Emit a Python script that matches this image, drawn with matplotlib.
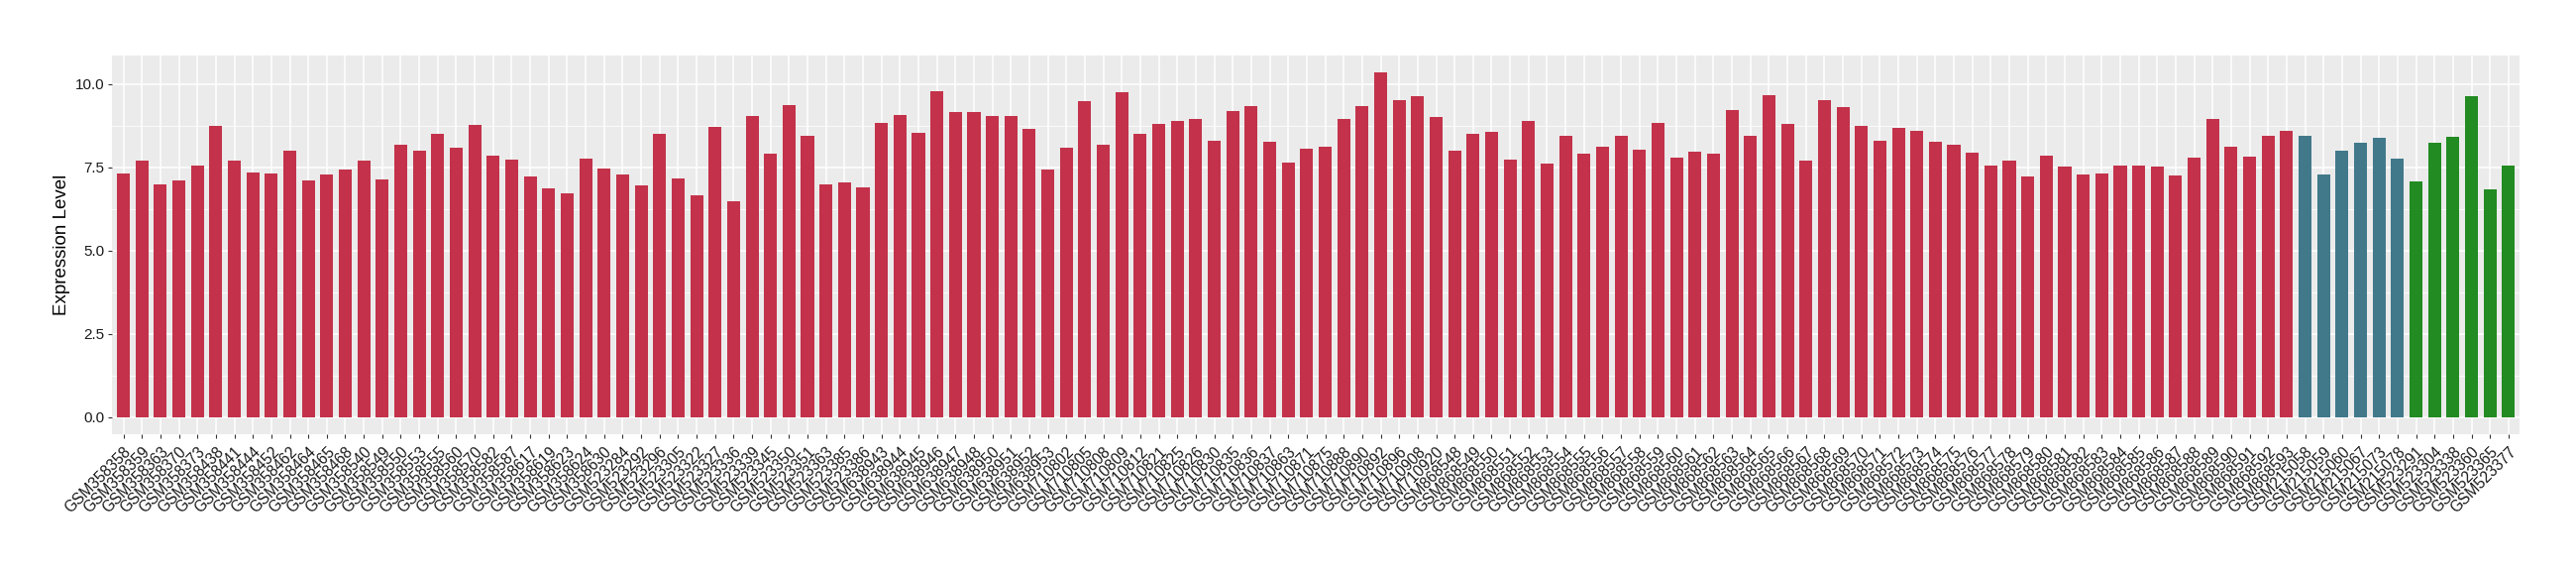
import numpy as np
import matplotlib
matplotlib.use("Agg")
import matplotlib.pyplot as plt
from matplotlib.ticker import MultipleLocator

plt.rcParams['font.family'] = ['Liberation Sans', 'DejaVu Sans']

# ---- data -------------------------------------------------------------
group_a_samples = [
    "GSM358358", "GSM358359", "GSM358363", "GSM358370", "GSM358373", "GSM358438",
    "GSM358441", "GSM358444", "GSM358452", "GSM358462", "GSM358464", "GSM358465",
    "GSM358468", "GSM358540", "GSM358549", "GSM358550", "GSM358553", "GSM358555",
    "GSM358560", "GSM358570", "GSM358582", "GSM358587", "GSM358617", "GSM358619",
    "GSM358623", "GSM358624", "GSM358630", "GSM523284", "GSM523292", "GSM523296",
    "GSM523305", "GSM523322", "GSM523327", "GSM523336", "GSM523339", "GSM523345",
    "GSM523350", "GSM523351", "GSM523363", "GSM523385", "GSM523386", "GSM638943",
    "GSM638944", "GSM638945", "GSM638946", "GSM638947", "GSM638948", "GSM638950",
    "GSM638951", "GSM638952", "GSM638953", "GSM710802", "GSM710805", "GSM710808",
    "GSM710809", "GSM710812", "GSM710821", "GSM710825", "GSM710826", "GSM710830",
    "GSM710835", "GSM710836", "GSM710837", "GSM710863", "GSM710871", "GSM710875",
    "GSM710888", "GSM710890", "GSM710892", "GSM710896", "GSM710908", "GSM710920",
    "GSM868548", "GSM868549", "GSM868550", "GSM868551", "GSM868552", "GSM868553",
    "GSM868554", "GSM868555", "GSM868556", "GSM868557", "GSM868558", "GSM868559",
    "GSM868560", "GSM868561", "GSM868562", "GSM868563", "GSM868564", "GSM868565",
    "GSM868566", "GSM868567", "GSM868568", "GSM868569", "GSM868570", "GSM868571",
    "GSM868572", "GSM868573", "GSM868574", "GSM868575", "GSM868576", "GSM868577",
    "GSM868578", "GSM868579", "GSM868580", "GSM868581", "GSM868582", "GSM868583",
    "GSM868584", "GSM868585", "GSM868586", "GSM868587", "GSM868588", "GSM868589",
    "GSM868590", "GSM868591", "GSM868592", "GSM868593",
]
group_a_values = [
    7.30, 7.71, 6.99, 7.10, 7.54, 8.75, 7.71, 7.33, 7.30, 8.00, 7.10, 7.28,
    7.42, 7.71, 7.13, 8.17, 8.00, 8.51, 8.09, 8.78, 7.86, 7.74, 7.22, 6.85,
    6.71, 7.77, 7.45, 7.28, 6.96, 8.51, 7.16, 6.65, 8.72, 6.47, 9.04, 7.89,
    9.36, 8.43, 6.99, 7.04, 6.88, 8.83, 9.07, 8.54, 9.78, 9.15, 9.15, 9.04,
    9.04, 8.66, 7.42, 8.09, 9.47, 8.17, 9.75, 8.51, 8.80, 8.89, 8.95, 8.28,
    9.18, 9.33, 8.25, 7.65, 8.06, 8.12, 8.95, 9.33, 10.33, 9.52, 9.64, 9.01,
    8.00, 8.49, 8.57, 7.74, 8.89, 7.60, 8.43, 7.91, 8.12, 8.43, 8.03, 8.83,
    7.80, 7.97, 7.91, 9.21, 8.43, 9.67, 8.80, 7.71, 9.52, 9.30, 8.75, 8.28,
    8.69, 8.60, 8.25, 8.17, 7.94, 7.54, 7.71, 7.22, 7.86, 7.51, 7.28, 7.30,
    7.54, 7.54, 7.51, 7.25, 7.80, 8.95, 8.12, 7.83, 8.43, 8.60,
]

group_b_samples = ["GSM215058", "GSM215059", "GSM215060", "GSM215067", "GSM215073", "GSM215078"]
group_b_values = [8.43, 7.28, 8.00, 8.22, 8.37, 7.77]

group_c_samples = ["GSM523291", "GSM523304", "GSM523338", "GSM523360", "GSM523365", "GSM523377"]
group_c_values = [7.07, 8.22, 8.40, 9.64, 6.82, 7.54]

group_colors = ["#C3324A", "#41798B", "#228B22"]

# ---- assemble -----------------------------------------------------------
samples = group_a_samples + group_b_samples + group_c_samples
values = group_a_values + group_b_values + group_c_values
colors = ([group_colors[0]] * len(group_a_samples)
          + [group_colors[1]] * len(group_b_samples)
          + [group_colors[2]] * len(group_c_samples))
x = np.arange(len(samples))

fig = plt.figure(figsize=(26, 5.8), dpi=100)
ax = fig.add_axes([0.0436, 0.2443, 0.9345, 0.6591])
ax.set_facecolor("#EBEBEB")

ax.bar(x, values, width=0.7, color=colors, zorder=3)

ax.set_xlim(-0.6, len(samples) - 1 + 0.6)
vmax = max(values)
ax.set_ylim(-0.05 * vmax, vmax * 1.05)

ax.yaxis.set_major_locator(MultipleLocator(2.5))
ax.yaxis.set_minor_locator(MultipleLocator(1.25))
ax.yaxis.set_major_formatter(matplotlib.ticker.FormatStrFormatter('%.1f'))
ax.set_xticks(x)
ax.set_xticklabels(samples, rotation=45, ha='right', va='top',
                   rotation_mode='anchor', fontsize=11.2, color='#1A1A1A')
ax.tick_params(axis='y', labelsize=11, labelcolor='#1A1A1A')
ax.tick_params(axis='x', which='major', pad=4)
ax.tick_params(axis='both', which='major', length=3, width=0.8, color='#333333')
ax.tick_params(axis='y', which='major', pad=2.5)
ax.tick_params(axis='y', which='minor', length=0)

ax.grid(True, which='major', color='white', linewidth=1.1, zorder=0)
ax.grid(True, which='minor', axis='y', color='white', linewidth=0.55, zorder=0)
ax.set_axisbelow(True)
for s in ax.spines.values():
    s.set_visible(False)

ax.set_ylabel("Expression Level", fontsize=13.5, color='black', labelpad=4)

fig.savefig("out.png", dpi=100, facecolor='white')
